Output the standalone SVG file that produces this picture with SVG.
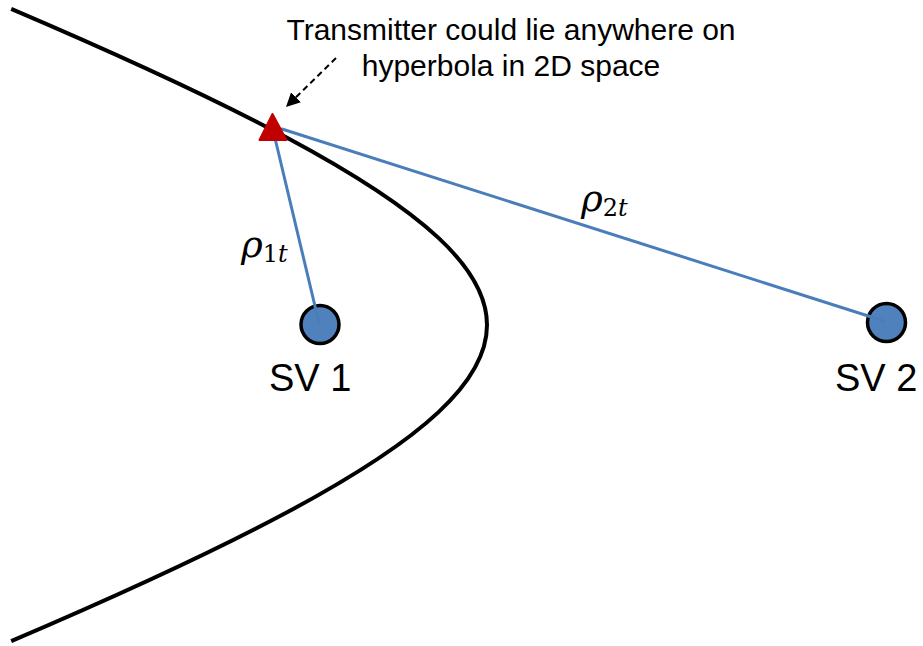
<svg xmlns="http://www.w3.org/2000/svg" width="923" height="646" viewBox="0 0 923 646">
  <style>
    .txt { font-family: "Liberation Sans", Arial, sans-serif; fill: #000; }
    .sv { fill: #4F81BD; stroke: #000; stroke-width: 3.5; }
    .range { stroke: #4A7EBB; stroke-width: 3; fill: none; stroke-linecap: round; }
    .rho { font-family: "DejaVu Serif", "Liberation Serif", serif; font-style: italic; fill: #000; }
    .sub { font-family: "DejaVu Serif", "Liberation Serif", serif; fill: #000; }
  </style>
  <defs>
    <marker id="arrowhead" viewBox="0 0 10 10" refX="9" refY="5" markerWidth="7" markerHeight="7" markerUnits="strokeWidth" orient="auto">
      <path d="M0,0 L10,5 L0,10 Z" fill="#000"/>
    </marker>
  </defs>
  <rect width="923" height="646" fill="#fff"/>

  <g id="hyperbola">
    <path d="M11.2,8.8 C127.1,58.3 216.2,99.8 285.2,136.7 C356.0,174.5 405.8,207.3 438.5,237.9 C471.3,268.5 487,296.7 487,325 C487,353.3 471.3,381.5 438.5,412.1 C405.8,442.7 356.0,475.5 285.2,513.3 C216.2,550.2 127.1,591.7 11.2,641.2" fill="none" stroke="#000" stroke-width="4"/>
  </g>

  <g id="sv1">
    <circle class="sv" cx="320" cy="324.5" r="19"/>
    <text class="txt" x="269" y="391" font-size="38">SV 1</text>
  </g>
  <g id="sv2">
    <circle class="sv" cx="886.5" cy="322.5" r="19"/>
    <text class="txt" x="835" y="391" font-size="38">SV 2</text>
  </g>

  <g id="connectors">
    <line class="range" x1="274" y1="134" x2="319" y2="323"/>
    <line class="range" x1="282" y1="129" x2="884" y2="321"/>
    <line x1="336" y1="58" x2="287" y2="106" stroke="#000" stroke-width="2" stroke-dasharray="6,4" marker-end="url(#arrowhead)"/>
  </g>

  <g id="transmitter">
    <polygon points="272.5,114 259.5,140 286.5,140" fill="#C00000" stroke="#C00000" stroke-width="2" stroke-linejoin="round"/>
  </g>

  <g id="labels">
    <text class="txt" x="511" y="40" font-size="30" text-anchor="middle">Transmitter could lie anywhere on</text>
    <text class="txt" x="511" y="76" font-size="30" text-anchor="middle">hyperbola in 2D space</text>
    <text x="241" y="257"><tspan class="rho" font-size="37">ρ</tspan><tspan class="sub" font-size="24" dy="5">1</tspan><tspan class="rho" font-size="24">t</tspan></text>
    <text x="581" y="211"><tspan class="rho" font-size="37">ρ</tspan><tspan class="sub" font-size="24" dy="5">2</tspan><tspan class="rho" font-size="24">t</tspan></text>
  </g>
</svg>
